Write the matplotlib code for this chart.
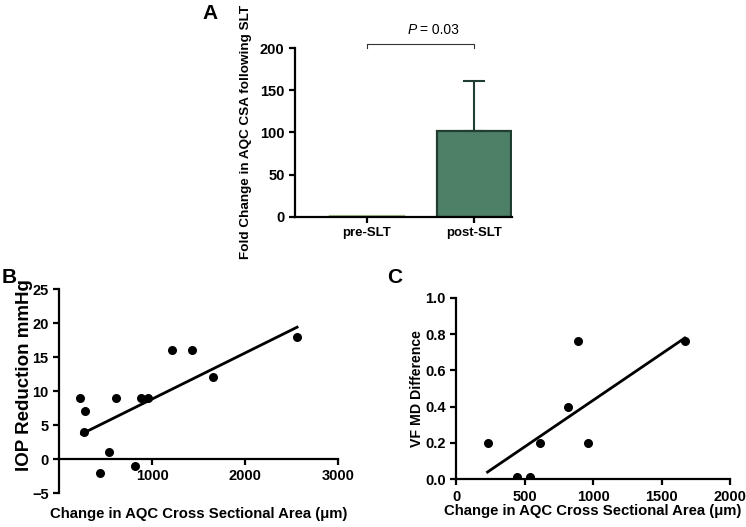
import matplotlib.pyplot as plt
import numpy as np

plt.rcParams['font.family'] = ['Liberation Sans', 'DejaVu Sans']
plt.rcParams['font.weight'] = 'bold'

# panel A
groups = ['pre-SLT', 'post-SLT']
fold_change = [1.0, 102.0]
fold_err = [0.0, 59.0]
p_value = '= 0.03'

# panel B
b_x = [225, 280, 270, 440, 535, 610, 815, 885, 955, 1220, 1430, 1660, 2560]
b_y = [9, 7, 4, -2, 1, 9, -1, 9, 9, 16, 16, 12, 18]

# panel C
c_x = [230, 445, 540, 615, 820, 890, 960, 1670]
c_y = [0.2, 0.01, 0.01, 0.2, 0.4, 0.76, 0.2, 0.76]

xlabel = 'Change in AQC Cross Sectional Area (\u03bcm)'


def style_axes(ax, size=10.5):
    for s in ['top', 'right']:
        ax.spines[s].set_visible(False)
    for s in ['left', 'bottom']:
        ax.spines[s].set_linewidth(1.6)
    ax.tick_params(width=1.6, length=4, labelsize=size)
    for lab in ax.get_xticklabels() + ax.get_yticklabels():
        lab.set_fontweight('bold')


fig = plt.figure(figsize=(7.46, 5.27), dpi=100)

# ---- A
axA = fig.add_axes([0.3954, 0.5888, 0.2909, 0.3201])
xpos = np.arange(len(groups))
axA.bar(xpos, fold_change, width=0.69, color=['#b5c79a', '#4e8068'],
        edgecolor=['#a9bd8c', '#1f3d30'], linewidth=1.6, zorder=2)
axA.errorbar(xpos[1], fold_change[1], yerr=[[0], [fold_err[1]]], fmt='none',
             ecolor='#1f3d30', elinewidth=1.5, capsize=8, capthick=1.5, zorder=1)
axA.set_xlim(-0.673, 1.355)
axA.set_ylim(0, 200)
axA.set_yticks([0, 50, 100, 150, 200])
axA.set_xticks(xpos)
axA.set_xticklabels(groups)
style_axes(axA)
axA.tick_params(axis='x', labelsize=9.5)
axA.set_ylabel('Fold Change in AQC CSA following SLT', fontsize=9.7, fontweight='bold', labelpad=6)
# significance bracket
axA.plot([0, 0, 1, 1], [200, 205, 205, 200], color='#333333', lw=0.8, clip_on=False)
axA.text(0.5, 221, 'P ', ha='right', va='center', fontsize=10,
         fontweight='normal', style='italic')
axA.text(0.5, 221, p_value, ha='left', va='center', fontsize=10, fontweight='normal')
fig.text(0.282, 0.975, 'A', fontsize=15, fontweight='bold', ha='center', va='center')

# ---- B
axB = fig.add_axes([0.0791, 0.0645, 0.374, 0.3871])
axB.scatter(b_x, b_y, s=30, color='black', zorder=3)
kb = np.polyfit(b_x, b_y, 1)
xb = np.array([min(b_x) + 18, max(b_x)])
axB.plot(xb, np.polyval(kb, xb), color='black', lw=2)
axB.set_xlim(0, 3000)
axB.set_ylim(-5, 25)
axB.set_xticks([1000, 2000, 3000])
axB.set_yticks([-5, 0, 5, 10, 15, 20, 25])
axB.spines['bottom'].set_position(('data', 0))
style_axes(axB)
axB.set_ylabel('IOP Reduction mmHg', fontsize=13.5, fontweight='bold')
axB.yaxis.set_label_coords(-0.093, 0.578)
axB.set_xlabel(xlabel, fontsize=10.7, fontweight='bold')
axB.xaxis.set_label_coords(0.5, -0.068)
fig.text(0.012, 0.474, 'B', fontsize=15, fontweight='bold', ha='center', va='center')

# ---- C
axC = fig.add_axes([0.6113, 0.0905, 0.3673, 0.3446])
axC.scatter(c_x, c_y, s=30, color='black', zorder=3)
kc = np.polyfit(c_x, c_y, 1)
xc = np.array([min(c_x), max(c_x)])
axC.plot(xc, np.polyval(kc, xc), color='black', lw=2)
axC.set_xlim(0, 2000)
axC.set_ylim(0, 1.0)
axC.set_xticks([0, 500, 1000, 1500, 2000])
axC.set_yticks([0.0, 0.2, 0.4, 0.6, 0.8, 1.0])
axC.yaxis.set_major_formatter(plt.FormatStrFormatter('%.1f'))
style_axes(axC)
axC.set_ylabel('VF MD Difference', fontsize=10.2, fontweight='bold', labelpad=0.5)
axC.set_xlabel(xlabel, fontsize=10.7, fontweight='bold', labelpad=0)
fig.text(0.529, 0.474, 'C', fontsize=15, fontweight='bold', ha='center', va='center')

fig.savefig('out.png', dpi=100)
